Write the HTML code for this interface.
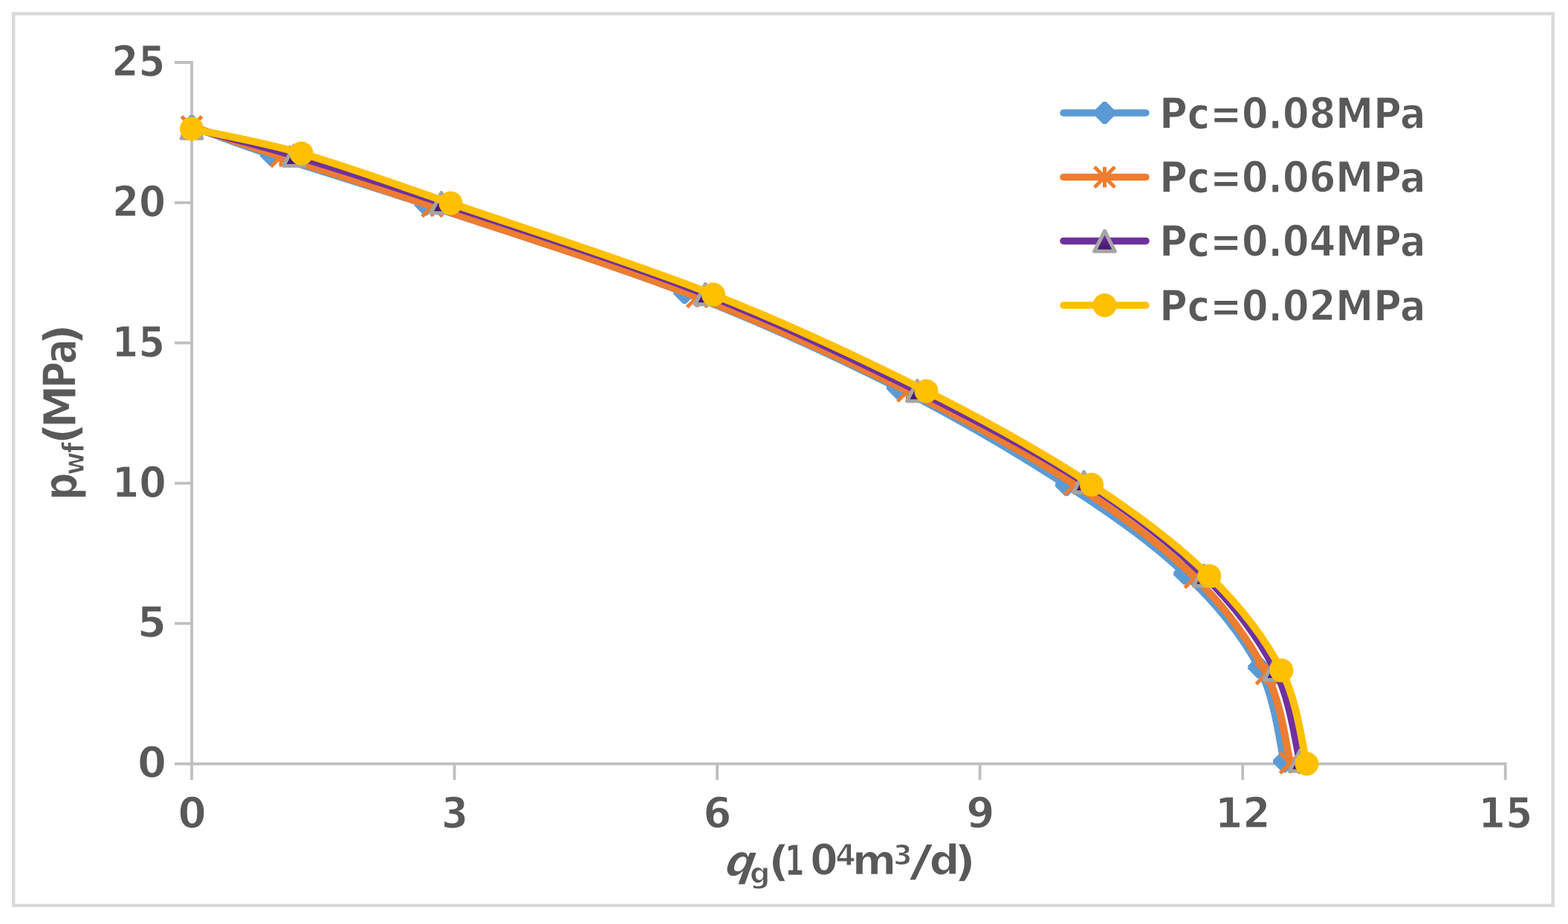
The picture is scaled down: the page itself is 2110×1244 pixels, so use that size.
<!DOCTYPE html>
<html><head><meta charset="utf-8"><title>p-q chart</title><style>html,body{margin:0;padding:0;background:#fff;overflow:hidden;}svg{display:block;}text{font-family:"DejaVu Sans Condensed", "DejaVu Sans", "Liberation Sans", sans-serif;font-weight:bold;fill:#595959;stroke:#fff;stroke-width:1.2px;}</style></head><body>
<svg width="2110" height="1244" viewBox="0 0 2110 1244">
<defs><linearGradient id="tg" x1="0" y1="0" x2="0" y2="1"><stop offset="0" stop-color="#7a33b0"/><stop offset="1" stop-color="#3f1466"/></linearGradient></defs>
<rect x="0" y="0" width="2110" height="1244" fill="#fff"/>
<rect x="18.2" y="18.4" width="2071.5" height="1200.6" fill="#fff" stroke="#d9d9d9" stroke-width="4.4"/>
<path d="M235,84 H258 V1050 M235,839.44 H258 M235,650.58 H258 M235,461.72 H258 M235,272.86 H258 M235,1028.3 H2025.7 V1050 M611.54,1028.3 V1050 M965.08,1028.3 V1050 M1318.62,1028.3 V1050 M1672.16,1028.3 V1050" stroke="#bfbfbf" stroke-width="3.8" fill="none" stroke-linejoin="miter"/>
<text x="224.01" y="1047.26" text-anchor="end" font-size="56.3" textLength="39" lengthAdjust="spacingAndGlyphs">0</text>
<text x="223.84" y="858.4" text-anchor="end" font-size="56.3" textLength="39.18" lengthAdjust="spacingAndGlyphs">5</text>
<text x="223.74" y="669.54" text-anchor="end" font-size="56.3" textLength="73.09" lengthAdjust="spacingAndGlyphs">10</text>
<text x="222.13" y="480.68" text-anchor="end" font-size="56.3" textLength="71.5" lengthAdjust="spacingAndGlyphs">15</text>
<text x="222.98" y="291.82" text-anchor="end" font-size="56.3" textLength="72.08" lengthAdjust="spacingAndGlyphs">20</text>
<text x="222.35" y="102.96" text-anchor="end" font-size="56.3" textLength="72.2" lengthAdjust="spacingAndGlyphs">25</text>
<text x="258.5" y="1114.56" text-anchor="middle" font-size="56.3" textLength="38.09" lengthAdjust="spacingAndGlyphs">0</text>
<text x="612.08" y="1114.56" text-anchor="middle" font-size="56.3" textLength="36.17" lengthAdjust="spacingAndGlyphs">3</text>
<text x="965.26" y="1114.56" text-anchor="middle" font-size="56.3" textLength="38.19" lengthAdjust="spacingAndGlyphs">6</text>
<text x="1319.3" y="1114.56" text-anchor="middle" font-size="56.3" textLength="38.23" lengthAdjust="spacingAndGlyphs">9</text>
<text x="1672.34" y="1114.56" text-anchor="middle" font-size="56.3" textLength="74.54" lengthAdjust="spacingAndGlyphs">12</text>
<text x="2025.92" y="1114.56" text-anchor="middle" font-size="56.3" textLength="72.56" lengthAdjust="spacingAndGlyphs">15</text>
<path d="M258,170 C275.83,176.42 312.53,190.97 365,208.5 C417.47,226.03 480.1,244.3 572.8,275.2 C665.5,306.1 815.33,352.77 921.2,393.9 C1027.07,435.03 1122.37,478.85 1208,522 C1293.63,565.15 1370.63,611.12 1435,652.8 C1499.37,694.48 1551,731.17 1594.2,772.1 C1637.4,813.03 1671.88,856.22 1694.2,898.4 C1716.52,940.58 1722.45,1004.07 1728.1,1025.2" stroke="#5b9bd5" stroke-width="10" fill="none" stroke-linecap="round" stroke-linejoin="round"/>
<polygon points="255.9,155 260.1,155 273,167.9 273,172.1 260.1,185 255.9,185 243,172.1 243,167.9" fill="#5b9bd5"/>
<polygon points="362.9,193.5 367.1,193.5 380,206.4 380,210.6 367.1,223.5 362.9,223.5 350,210.6 350,206.4" fill="#5b9bd5"/>
<polygon points="570.7,260.2 574.9,260.2 587.8,273.1 587.8,277.3 574.9,290.2 570.7,290.2 557.8,277.3 557.8,273.1" fill="#5b9bd5"/>
<polygon points="919.1,378.9 923.3,378.9 936.2,391.8 936.2,396 923.3,408.9 919.1,408.9 906.2,396 906.2,391.8" fill="#5b9bd5"/>
<polygon points="1205.9,507 1210.1,507 1223,519.9 1223,524.1 1210.1,537 1205.9,537 1193,524.1 1193,519.9" fill="#5b9bd5"/>
<polygon points="1432.9,637.8 1437.1,637.8 1450,650.7 1450,654.9 1437.1,667.8 1432.9,667.8 1420,654.9 1420,650.7" fill="#5b9bd5"/>
<polygon points="1592.1,757.1 1596.3,757.1 1609.2,770 1609.2,774.2 1596.3,787.1 1592.1,787.1 1579.2,774.2 1579.2,770" fill="#5b9bd5"/>
<polygon points="1692.1,883.4 1696.3,883.4 1709.2,896.3 1709.2,900.5 1696.3,913.4 1692.1,913.4 1679.2,900.5 1679.2,896.3" fill="#5b9bd5"/>
<polygon points="1726,1010.2 1730.2,1010.2 1743.1,1023.1 1743.1,1027.3 1730.2,1040.2 1726,1040.2 1713.1,1027.3 1713.1,1023.1" fill="#5b9bd5"/>
<path d="M258,170.5 C278.02,177.2 324.15,192.83 378.1,210.7 C432.05,228.57 488.33,246.18 581.7,277.7 C675.07,309.22 831.68,358.33 938.3,399.8 C1044.92,441.27 1136.75,484.4 1221.4,526.5 C1306.05,568.6 1381.77,610.57 1446.2,652.4 C1510.63,694.23 1565.02,735.03 1608,777.5 C1650.98,819.97 1682.73,865.58 1704.1,907.2 C1725.47,948.82 1730.85,1007.2 1736.2,1027.2" stroke="#ed7d31" stroke-width="10" fill="none" stroke-linecap="round" stroke-linejoin="round"/>
<path d="M258,156.8 V184.2 M244.3,156.8 L271.7,184.2 M244.3,184.2 L271.7,156.8" stroke="#ed7d31" stroke-width="5" fill="none"/>
<path d="M378.1,197 V224.4 M364.4,197 L391.8,224.4 M364.4,224.4 L391.8,197" stroke="#ed7d31" stroke-width="5" fill="none"/>
<path d="M581.7,264 V291.4 M568,264 L595.4,291.4 M568,291.4 L595.4,264" stroke="#ed7d31" stroke-width="5" fill="none"/>
<path d="M938.3,386.1 V413.5 M924.6,386.1 L952,413.5 M924.6,413.5 L952,386.1" stroke="#ed7d31" stroke-width="5" fill="none"/>
<path d="M1221.4,512.8 V540.2 M1207.7,512.8 L1235.1,540.2 M1207.7,540.2 L1235.1,512.8" stroke="#ed7d31" stroke-width="5" fill="none"/>
<path d="M1446.2,638.7 V666.1 M1432.5,638.7 L1459.9,666.1 M1432.5,666.1 L1459.9,638.7" stroke="#ed7d31" stroke-width="5" fill="none"/>
<path d="M1608,763.8 V791.2 M1594.3,763.8 L1621.7,791.2 M1594.3,791.2 L1621.7,763.8" stroke="#ed7d31" stroke-width="5" fill="none"/>
<path d="M1704.1,893.5 V920.9 M1690.4,893.5 L1717.8,920.9 M1690.4,920.9 L1717.8,893.5" stroke="#ed7d31" stroke-width="5" fill="none"/>
<path d="M1736.2,1013.5 V1040.9 M1722.5,1013.5 L1749.9,1040.9 M1722.5,1040.9 L1749.9,1013.5" stroke="#ed7d31" stroke-width="5" fill="none"/>
<path d="M258,172.4 C280.93,178.57 339.62,192.65 395.6,209.4 C451.58,226.15 501.63,241.82 593.9,272.9 C686.17,303.98 842.43,353.72 949.2,395.9 C1055.97,438.08 1149.6,483.85 1234.5,526 C1319.4,568.15 1394.32,607.33 1458.6,648.8 C1522.88,690.27 1577.37,732.72 1620.2,774.8 C1663.03,816.88 1694.08,859.77 1715.6,901.3 C1737.12,942.83 1743.68,1003.55 1749.3,1024" stroke="#7030a0" stroke-width="10" fill="none" stroke-linecap="round" stroke-linejoin="round"/>
<polygon points="258,159 271.9,186.3 244.1,186.3" fill="url(#tg)" stroke="#a5a5a5" stroke-width="5" stroke-linejoin="round"/>
<polygon points="395.6,196 409.5,223.3 381.7,223.3" fill="url(#tg)" stroke="#a5a5a5" stroke-width="5" stroke-linejoin="round"/>
<polygon points="593.9,259.5 607.8,286.8 580,286.8" fill="url(#tg)" stroke="#a5a5a5" stroke-width="5" stroke-linejoin="round"/>
<polygon points="949.2,382.5 963.1,409.8 935.3,409.8" fill="url(#tg)" stroke="#a5a5a5" stroke-width="5" stroke-linejoin="round"/>
<polygon points="1234.5,512.6 1248.4,539.9 1220.6,539.9" fill="url(#tg)" stroke="#a5a5a5" stroke-width="5" stroke-linejoin="round"/>
<polygon points="1458.6,635.4 1472.5,662.7 1444.7,662.7" fill="url(#tg)" stroke="#a5a5a5" stroke-width="5" stroke-linejoin="round"/>
<polygon points="1620.2,761.4 1634.1,788.7 1606.3,788.7" fill="url(#tg)" stroke="#a5a5a5" stroke-width="5" stroke-linejoin="round"/>
<polygon points="1715.6,887.9 1729.5,915.2 1701.7,915.2" fill="url(#tg)" stroke="#a5a5a5" stroke-width="5" stroke-linejoin="round"/>
<polygon points="1749.3,1010.6 1763.2,1037.9 1735.4,1037.9" fill="url(#tg)" stroke="#a5a5a5" stroke-width="5" stroke-linejoin="round"/>
<path d="M258,173.4 C282.62,178.92 347.62,189.82 405.7,206.5 C463.78,223.18 514.12,241.82 606.5,273.5 C698.88,305.18 853.33,354.43 960,396.6 C1066.67,438.77 1161.67,483.85 1246.5,526.5 C1331.33,569.15 1405.53,611 1469,652.5 C1532.47,694 1584.72,733.82 1627.3,775.5 C1669.88,817.18 1702.63,860.47 1724.5,902.6 C1746.37,944.73 1752.83,1007.35 1758.5,1028.3" stroke="#ffc000" stroke-width="10" fill="none" stroke-linecap="round" stroke-linejoin="round"/>
<circle cx="258" cy="173.4" r="16" fill="#ffc000"/>
<circle cx="405.7" cy="206.5" r="16" fill="#ffc000"/>
<circle cx="606.5" cy="273.5" r="16" fill="#ffc000"/>
<circle cx="960" cy="396.6" r="16" fill="#ffc000"/>
<circle cx="1246.5" cy="526.5" r="16" fill="#ffc000"/>
<circle cx="1469" cy="652.5" r="16" fill="#ffc000"/>
<circle cx="1627.3" cy="775.5" r="16" fill="#ffc000"/>
<circle cx="1724.5" cy="902.6" r="16" fill="#ffc000"/>
<circle cx="1758.5" cy="1028.3" r="16" fill="#ffc000"/>
<path d="M1431,152 H1542" stroke="#5b9bd5" stroke-width="9.5" stroke-linecap="round"/>
<polygon points="1484.4,137 1488.6,137 1501.5,149.9 1501.5,154.1 1488.6,167 1484.4,167 1471.5,154.1 1471.5,149.9" fill="#5b9bd5"/>
<text x="1560.33" y="172.54" text-anchor="start" font-size="57.09" textLength="358.29" lengthAdjust="spacingAndGlyphs">Pc=0.08MPa</text>
<path d="M1431,238.5 H1542" stroke="#ed7d31" stroke-width="9.5" stroke-linecap="round"/>
<path d="M1486.5,224.8 V252.2 M1472.8,224.8 L1500.2,252.2 M1472.8,252.2 L1500.2,224.8" stroke="#ed7d31" stroke-width="5" fill="none"/>
<text x="1560.33" y="259.04" text-anchor="start" font-size="57.09" textLength="358.29" lengthAdjust="spacingAndGlyphs">Pc=0.06MPa</text>
<path d="M1431,324.4 H1542" stroke="#7030a0" stroke-width="9.5" stroke-linecap="round"/>
<polygon points="1486.5,311 1500.4,338.3 1472.6,338.3" fill="url(#tg)" stroke="#a5a5a5" stroke-width="5" stroke-linejoin="round"/>
<text x="1560.33" y="345.44" text-anchor="start" font-size="57.09" textLength="358.29" lengthAdjust="spacingAndGlyphs">Pc=0.04MPa</text>
<path d="M1431,411 H1542" stroke="#ffc000" stroke-width="9.5" stroke-linecap="round"/>
<circle cx="1486.5" cy="411" r="16" fill="#ffc000"/>
<text x="1560.33" y="431.94" text-anchor="start" font-size="57.09" textLength="358.29" lengthAdjust="spacingAndGlyphs">Pc=0.02MPa</text>
<text id="xt_g" x="1008.84" y="1189.48" font-size="37.71" textLength="27.77" lengthAdjust="spacingAndGlyphs">g</text>
<text id="xt_q" x="971.04" y="1179.1" font-size="57.96" textLength="40.82" lengthAdjust="spacingAndGlyphs" transform="translate(0,1179.1) skewX(-20) translate(0,-1179.1)">q</text>
<text id="xt_lp" x="1033.79" y="1178.7" font-size="57.59" textLength="29" lengthAdjust="spacingAndGlyphs">(</text>
<text id="xt_1" x="1056.09" y="1178.74" font-size="57.51" textLength="26.48" lengthAdjust="spacingAndGlyphs">1</text>
<text id="xt_0" x="1090.3" y="1177.98" font-size="57.4" textLength="37.24" lengthAdjust="spacingAndGlyphs">0</text>
<text id="xt_4" x="1124.3" y="1164.8" font-size="38.42" textLength="27.38" lengthAdjust="spacingAndGlyphs">4</text>
<text id="xt_m" x="1146.65" y="1177.3" font-size="55.35" textLength="59.44" lengthAdjust="spacingAndGlyphs">m</text>
<text id="xt_3" x="1202.35" y="1163.96" font-size="36.59" textLength="25.32" lengthAdjust="spacingAndGlyphs">3</text>
<text id="xt_sl" x="1223.11" y="1179.86" font-size="57.96" textLength="32.97" lengthAdjust="spacingAndGlyphs">/</text>
<text id="xt_d" x="1250.4" y="1176.7" font-size="55.93" textLength="40.98" lengthAdjust="spacingAndGlyphs">d</text>
<text id="xt_rp" x="1283.71" y="1178.7" font-size="56.93" textLength="29.51" lengthAdjust="spacingAndGlyphs">)</text>
<g transform="translate(101.5,669.2) rotate(-90)">
<text id="yt_p" x="-4.45" y="1.64" font-size="62.17" textLength="37.4" lengthAdjust="spacingAndGlyphs">p</text>
<text id="yt_w" x="29.34" y="11.1" font-size="39.65" textLength="31.6" lengthAdjust="spacingAndGlyphs">w</text>
<text id="yt_f" x="59.24" y="11.06" font-size="41.24" textLength="14.62" lengthAdjust="spacingAndGlyphs">f</text>
<text id="yt_lp" x="70.38" y="1.6" font-size="61.76" textLength="30.06" lengthAdjust="spacingAndGlyphs">(</text>
<text id="yt_M" x="92.64" y="0" font-size="60.26" textLength="58.26" lengthAdjust="spacingAndGlyphs">M</text>
<text id="yt_P" x="146.45" y="-0.8" font-size="60.26" textLength="35.84" lengthAdjust="spacingAndGlyphs">P</text>
<text id="yt_a" x="178.85" y="0.04" font-size="60.55" textLength="34.03" lengthAdjust="spacingAndGlyphs">a</text>
<text id="yt_rp" x="204.1" y="1.6" font-size="61.76" textLength="29.14" lengthAdjust="spacingAndGlyphs">)</text>
</g>
</svg></body></html>
